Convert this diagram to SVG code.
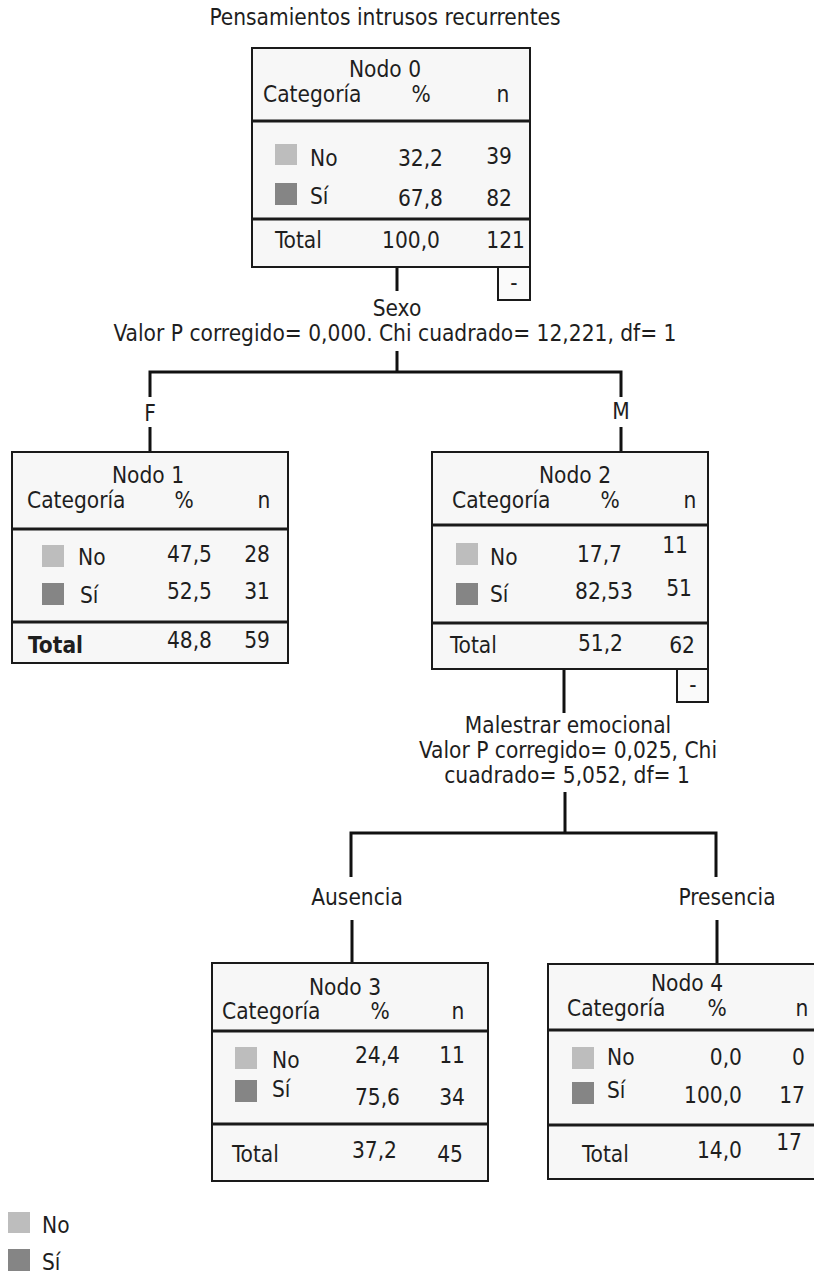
<svg xmlns="http://www.w3.org/2000/svg" width="814" height="1275" viewBox="0 0 814 1275">
<style>
text{font-family:"DejaVu Sans Condensed","DejaVu Sans",sans-serif;font-size:22.5px;fill:#1e1e1e}
.m{text-anchor:middle}.e{text-anchor:end}.b{font-weight:bold}
.box{fill:#f7f7f7;stroke:#1a1a1a;stroke-width:2}
.div{stroke:#1a1a1a;stroke-width:3}
.lt{fill:#bdbdbd}.dk{fill:#858585}
.col{fill:#fafafa;stroke:#1a1a1a;stroke-width:2}
.con{stroke:#111;stroke-width:3;fill:none}
</style>
<rect width="814" height="1275" fill="#fff"/>
<text class="m" x="385" y="25">Pensamientos intrusos recurrentes</text>

<g id="connectors">
<path class="con" d="M397,267V291"/>
<path class="con" d="M397,351V372M150,397V372H621V397M150,427V452M621,427V452"/>
<path class="con" d="M564,669V713"/>
<path class="con" d="M565,792V833M351,877V833H716V877M352,920V963M717,920V963"/>
</g>

<g id="labels">
<text class="m" x="397" y="316">Sexo</text>
<text class="m" x="395" y="341">Valor P corregido= 0,000. Chi cuadrado= 12,221, df= 1</text>
<text class="m" x="150" y="421">F</text>
<text class="m" x="621" y="419">M</text>
<text class="m" x="568" y="733">Malestrar emocional</text>
<text class="m" x="568" y="758">Valor P corregido= 0,025, Chi</text>
<text class="m" x="567" y="783">cuadrado= 5,052, df= 1</text>
<text class="m" x="357" y="905">Ausencia</text>
<text class="m" x="727" y="905">Presencia</text>
</g>

<g id="node0">
<rect class="box" x="252" y="48" width="278" height="219"/>
<line class="div" x1="252" y1="121" x2="530" y2="121"/>
<line class="div" x1="252" y1="219" x2="530" y2="219"/>
<text class="m" x="385" y="77">Nodo 0</text>
<text x="263" y="102">Categoría</text>
<text class="m" x="421" y="102">%</text>
<text class="m" x="503" y="102">n</text>
<rect class="lt" x="275" y="144" width="22" height="21"/>
<text x="310" y="166">No</text>
<text class="e" x="443" y="166">32,2</text>
<text class="e" x="512" y="164">39</text>
<rect class="dk" x="275" y="183" width="22" height="22"/>
<text x="310" y="204">Sí</text>
<text class="e" x="443" y="206">67,8</text>
<text class="e" x="512" y="206">82</text>
<text x="275" y="248">Total</text>
<text class="e" x="440" y="248">100,0</text>
<text class="e" x="525" y="248">121</text>
<rect class="col" x="498" y="267" width="32" height="33"/>
<text class="m" x="514" y="290">-</text>
</g>

<g id="node1">
<rect class="box" x="12" y="452" width="276" height="211"/>
<line class="div" x1="12" y1="529" x2="288" y2="529"/>
<line class="div" x1="12" y1="622" x2="288" y2="622"/>
<text class="m" x="148" y="483">Nodo 1</text>
<text x="27" y="508">Categoría</text>
<text class="m" x="184" y="508">%</text>
<text class="m" x="264" y="508">n</text>
<rect class="lt" x="42" y="545" width="22" height="22"/>
<text x="78" y="565">No</text>
<text class="e" x="212" y="562">47,5</text>
<text class="e" x="270" y="562">28</text>
<rect class="dk" x="42" y="583" width="22" height="22"/>
<text x="80" y="603">Sí</text>
<text class="e" x="212" y="599">52,5</text>
<text class="e" x="270" y="599">31</text>
<text class="b" x="28" y="653">Total</text>
<text class="e" x="212" y="648">48,8</text>
<text class="e" x="270" y="648">59</text>
</g>

<g id="node2">
<rect class="box" x="432" y="452" width="276" height="217"/>
<line class="div" x1="432" y1="525" x2="708" y2="525"/>
<line class="div" x1="432" y1="623" x2="708" y2="623"/>
<text class="m" x="575" y="483">Nodo 2</text>
<text x="452" y="508">Categoría</text>
<text class="m" x="610" y="508">%</text>
<text class="m" x="690" y="508">n</text>
<rect class="lt" x="456" y="543" width="22" height="22"/>
<text x="490" y="565">No</text>
<text class="e" x="622" y="562">17,7</text>
<text class="e" x="688" y="553">11</text>
<rect class="dk" x="456" y="583" width="22" height="22"/>
<text x="490" y="602">Sí</text>
<text class="e" x="633" y="599">82,53</text>
<text class="e" x="692" y="596">51</text>
<text x="450" y="653">Total</text>
<text class="e" x="623" y="651">51,2</text>
<text class="e" x="695" y="653">62</text>
<rect class="col" x="677" y="669" width="31" height="33"/>
<text class="m" x="693" y="692">-</text>
</g>

<g id="node3">
<rect class="box" x="212" y="963" width="276" height="218"/>
<line class="div" x1="212" y1="1031" x2="488" y2="1031"/>
<line class="div" x1="212" y1="1124" x2="488" y2="1124"/>
<text class="m" x="345" y="995">Nodo 3</text>
<text x="222" y="1019">Categoría</text>
<text class="m" x="380" y="1019">%</text>
<text class="m" x="458" y="1019">n</text>
<rect class="lt" x="235" y="1047" width="22" height="22"/>
<text x="272" y="1068">No</text>
<text class="e" x="400" y="1063">24,4</text>
<text class="e" x="465" y="1063">11</text>
<rect class="dk" x="235" y="1080" width="22" height="22"/>
<text x="272" y="1097">Sí</text>
<text class="e" x="400" y="1105">75,6</text>
<text class="e" x="465" y="1105">34</text>
<text x="232" y="1162">Total</text>
<text class="e" x="397" y="1158">37,2</text>
<text class="e" x="463" y="1162">45</text>
</g>

<g id="node4">
<rect class="box" x="548" y="964" width="282" height="215"/>
<line class="div" x1="548" y1="1030" x2="830" y2="1030"/>
<line class="div" x1="548" y1="1125" x2="830" y2="1125"/>
<text class="m" x="687" y="991">Nodo 4</text>
<text x="567" y="1016">Categoría</text>
<text class="m" x="717" y="1016">%</text>
<text class="m" x="802" y="1016">n</text>
<rect class="lt" x="572" y="1047" width="22" height="22"/>
<text x="607" y="1065">No</text>
<text class="e" x="742" y="1065">0,0</text>
<text class="e" x="805" y="1065">0</text>
<rect class="dk" x="572" y="1082" width="22" height="22"/>
<text x="607" y="1098">Sí</text>
<text class="e" x="742" y="1103">100,0</text>
<text class="e" x="805" y="1103">17</text>
<text x="582" y="1162">Total</text>
<text class="e" x="742" y="1158">14,0</text>
<text class="e" x="802" y="1150">17</text>
</g>

<g id="legend">
<rect class="lt" x="8" y="1212" width="22" height="21"/>
<text x="42" y="1233">No</text>
<rect class="dk" x="8" y="1249" width="22" height="22"/>
<text x="42" y="1270">Sí</text>
</g>
</svg>
